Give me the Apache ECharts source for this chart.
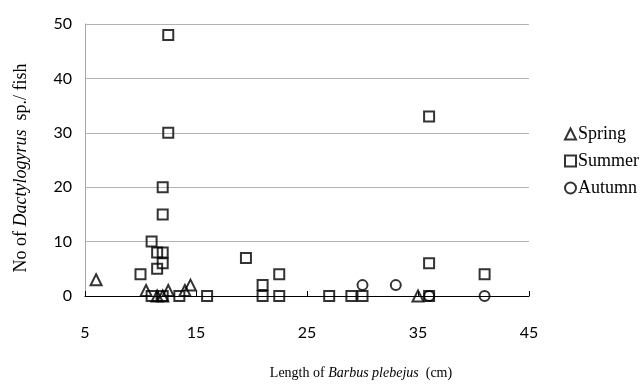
<!DOCTYPE html>
<html>
<head>
<meta charset="utf-8">
<script src="https://cdn.jsdelivr.net/npm/echarts@6/dist/echarts.min.js"></script>
<style>
  html, body { margin: 0; padding: 0; background: #ffffff; }
  #chart { width: 642px; height: 385px; }
</style>
</head>
<body>
<div id="chart"></div>
<script>
// Length of Barbus plebejus (cm), number of Dactylogyrus sp. per fish
const springLength = [6, 10.5, 11.5, 12, 12.5, 14, 14.5, 35];
const springCount  = [3, 1, 0, 0, 1, 1, 2, 0];

const summerLength = [10, 11, 11.5, 11.5, 12, 12, 12, 12, 12.5, 12.5, 11, 12, 13.5, 16, 19.5, 21, 21, 22.5, 22.5, 27, 29, 30, 36, 36, 36, 41];
const summerCount  = [4, 10, 5, 8, 8, 6, 15, 20, 30, 48, 0, 0, 0, 0, 7, 2, 0, 4, 0, 0, 0, 0, 33, 6, 0, 4];

const autumnLength = [30, 33, 36, 41];
const autumnCount  = [2, 2, 0, 0];

const xTicks = { min: 5, max: 45, interval: 10 };
const yTicks = { min: 0, max: 50, interval: 10 };

function pairs(xs, ys) { return xs.map((x, i) => [x, ys[i]]); }

const markerStyle = { color: 'rgba(255,255,255,0)', borderColor: '#000000', borderWidth: 2 };

const chart = echarts.init(document.getElementById('chart'), null, { renderer: 'canvas' });
chart.setOption({
  animation: false,
  backgroundColor: '#ffffff',
  grid: { left: 85, right: 113, top: 24, bottom: 87, containLabel: false },
  legend: {
    orient: 'vertical',
    left: 559,
    top: 120,
    itemWidth: 11,
    itemHeight: 11,
    itemGap: 9,
    textStyle: { fontFamily: 'Liberation Serif', fontSize: 18, color: '#000000', padding: [0, 0, 0, -3] },
    data: ['Spring', 'Summer', 'Autumn']
  },
  xAxis: {
    type: 'value',
    min: xTicks.min, max: xTicks.max, interval: xTicks.interval,
    axisLine: { show: true, onZero: true, lineStyle: { color: '#000000', width: 1 } },
    axisTick: { show: true, inside: true, length: 5, lineStyle: { color: '#000000' } },
    splitLine: { show: false },
    axisLabel: { fontFamily: 'Lato', fontSize: 16, color: '#000000', margin: 29 },
    name: 'Length of {i|Barbus plebejus}  (cm)',
    nameLocation: 'middle',
    nameGap: 70,
    nameTextStyle: {
      fontFamily: 'Liberation Serif', fontSize: 14, color: '#000000',
      padding: [0, 0, 0, 108],
      rich: { i: { fontFamily: 'Liberation Serif', fontStyle: 'italic', fontSize: 14, color: '#000000' } }
    }
  },
  yAxis: {
    type: 'value',
    min: yTicks.min, max: yTicks.max, interval: yTicks.interval,
    axisLine: { show: true, lineStyle: { color: '#a6a6a6', width: 1 } },
    axisTick: { show: false },
    splitLine: { show: true, lineStyle: { color: '#b3b3b3', width: 1 } },
    axisLabel: { fontFamily: 'Lato', fontSize: 16, color: '#000000', margin: 13 },
    name: 'No of {i|Dactylogyrus}  sp./ fish',
    nameLocation: 'middle',
    nameRotate: 90,
    nameGap: 55,
    nameTextStyle: {
      fontFamily: 'Liberation Serif', fontSize: 18, color: '#000000',
      padding: [0, 16, 0, 0],
      rich: { i: { fontFamily: 'Liberation Serif', fontStyle: 'italic', fontSize: 18, color: '#000000' } }
    }
  },
  series: [
    { name: 'Spring', type: 'scatter', symbol: 'triangle', symbolSize: 11, itemStyle: markerStyle, data: pairs(springLength, springCount), z: 3 },
    { name: 'Summer', type: 'scatter', symbol: 'rect', symbolSize: 10, itemStyle: markerStyle, data: pairs(summerLength, summerCount), z: 2 },
    { name: 'Autumn', type: 'scatter', symbol: 'circle', symbolSize: 10, itemStyle: markerStyle, data: pairs(autumnLength, autumnCount), z: 2 }
  ]
});
</script>
</body>
</html>
